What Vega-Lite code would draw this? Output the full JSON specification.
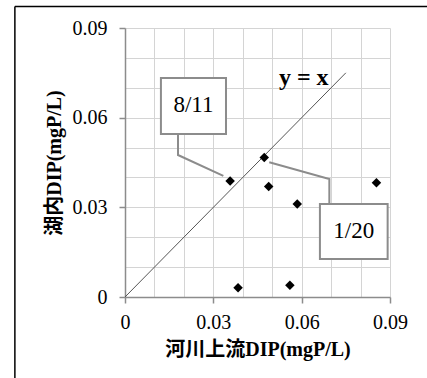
{
  "$schema": "https://vega.github.io/schema/vega-lite/v6.json",
  "width": 265,
  "height": 269,
  "autosize": {"type": "none"},
  "padding": {"left": 125, "top": 28, "right": 37, "bottom": 81},
  "background": "white",
  "config": {
    "view": {"stroke": null},
    "font": "Liberation Serif",
    "text": {"font": "Liberation Serif"}
  },
  "datasets": {
    "points": [
      {"x": 0.0357, "y": 0.0388, "date": "8/11"},
      {"x": 0.0473, "y": 0.0467, "date": "1/20"},
      {"x": 0.0488, "y": 0.0370, "date": ""},
      {"x": 0.0585, "y": 0.0311, "date": ""},
      {"x": 0.0854, "y": 0.0382, "date": ""},
      {"x": 0.0384, "y": 0.0031, "date": ""},
      {"x": 0.0560, "y": 0.0039, "date": ""}
    ],
    "identity": [
      {"x": 0, "y": 0},
      {"x": 0.075, "y": 0.075}
    ],
    "leaders": [
      {"g": "8/11", "s": 1, "x": 0.018, "y": 0.0547},
      {"g": "8/11", "s": 2, "x": 0.018, "y": 0.0475},
      {"g": "8/11", "s": 3, "x": 0.0334, "y": 0.0405},
      {"g": "1/20", "s": 1, "x": 0.0694, "y": 0.0311},
      {"g": "1/20", "s": 2, "x": 0.0694, "y": 0.0395},
      {"g": "1/20", "s": 3, "x": 0.0490, "y": 0.0451}
    ],
    "boxes": [
      {"label": "8/11", "x": 0.0122, "x2": 0.0343, "y": 0.0545, "y2": 0.0733, "cx": 0.02325, "cy": 0.0641},
      {"label": "1/20", "x": 0.0662, "x2": 0.0892, "y": 0.0127, "y2": 0.0311, "cx": 0.0777, "cy": 0.0221}
    ],
    "lineLabel": [
      {"x": 0.0607, "y": 0.0733, "label": "y = x"}
    ],
    "frame": [
      {"x": -0.0374, "x2": -0.0374, "y": -0.0275, "y2": 0.0972},
      {"x": -0.0374, "x2": 0.1030, "y": 0.0972, "y2": 0.0972}
    ]
  },
  "encoding": {
    "x": {
      "field": "x",
      "type": "quantitative",
      "scale": {"domain": [0, 0.09], "nice": false, "zero": false},
      "axis": {
        "title": "河川上流DIP(mgP/L)",
        "values": [0, 0.01, 0.02, 0.03, 0.04, 0.05, 0.06, 0.07, 0.08, 0.09],
        "labelExpr": "round(datum.value*100) % 3 == 0 ? (datum.value == 0 ? '0' : format(datum.value, '.2f')) : ''",
        "grid": true,
        "gridColor": "#d4d4d4",
        "gridWidth": 1,
        "domainColor": "#8c8c8c",
        "domainWidth": 1.5,
        "tickColor": "#8c8c8c",
        "tickWidth": 1.5,
        "tickSize": 6,
        "tickOpacity": {"condition": {"test": "round(datum.value*100) % 3 == 0", "value": 1}, "value": 0},
        "labelFont": "Liberation Serif",
        "labelFontSize": 20,
        "labelColor": "black",
        "labelPadding": 9,
        "labelFlush": false,
        "labelOverlap": false,
        "titleFont": "Liberation Serif, Noto Sans CJK JP",
        "titleFontSize": 20,
        "titleFontWeight": "bold",
        "titleColor": "black",
        "titlePadding": 7
      }
    },
    "y": {
      "field": "y",
      "type": "quantitative",
      "scale": {"domain": [0, 0.09], "nice": false, "zero": false},
      "axis": {
        "title": "湖内DIP(mgP/L)",
        "values": [0, 0.01, 0.02, 0.03, 0.04, 0.05, 0.06, 0.07, 0.08, 0.09],
        "labelExpr": "round(datum.value*100) % 3 == 0 ? (datum.value == 0 ? '0' : format(datum.value, '.2f')) : ''",
        "grid": true,
        "gridColor": "#d4d4d4",
        "gridWidth": 1,
        "domainColor": "#8c8c8c",
        "domainWidth": 1.5,
        "tickColor": "#8c8c8c",
        "tickWidth": 1.5,
        "tickSize": 6,
        "tickOpacity": {"condition": {"test": "round(datum.value*100) % 3 == 0", "value": 1}, "value": 0},
        "labelFont": "Liberation Serif",
        "labelFontSize": 20,
        "labelColor": "black",
        "labelPadding": 12,
        "labelFlush": false,
        "labelOverlap": false,
        "titleFont": "Liberation Serif, Noto Sans CJK JP",
        "titleFontSize": 20,
        "titleFontWeight": "bold",
        "titleColor": "black",
        "titlePadding": 8
      }
    }
  },
  "layer": [
    {
      "data": {"name": "identity"},
      "mark": {"type": "line", "color": "#555555", "strokeWidth": 1, "clip": false}
    },
    {
      "data": {"name": "leaders"},
      "mark": {"type": "line", "color": "#8c8c8c", "strokeWidth": 2, "clip": false},
      "encoding": {
        "detail": {"field": "g", "type": "nominal"},
        "order": {"field": "s", "type": "quantitative"}
      }
    },
    {
      "data": {"name": "points"},
      "mark": {"type": "point", "shape": "diamond", "filled": true, "color": "black", "size": 90, "opacity": 1}
    },
    {
      "data": {"name": "boxes"},
      "mark": {"type": "rect", "fill": "white", "stroke": "#8c8c8c", "strokeWidth": 2, "clip": false},
      "encoding": {
        "x2": {"field": "x2"},
        "y2": {"field": "y2"}
      }
    },
    {
      "data": {"name": "boxes"},
      "mark": {"type": "text", "fontSize": 23, "font": "Liberation Serif", "color": "black", "align": "center", "baseline": "middle"},
      "encoding": {
        "x": {"field": "cx", "type": "quantitative"},
        "y": {"field": "cy", "type": "quantitative"},
        "text": {"field": "label"}
      }
    },
    {
      "data": {"name": "lineLabel"},
      "mark": {"type": "text", "fontSize": 24, "fontWeight": "bold", "font": "Liberation Serif", "color": "black", "align": "center", "baseline": "middle"},
      "encoding": {
        "text": {"field": "label"}
      }
    },
    {
      "data": {"name": "frame"},
      "mark": {"type": "rule", "color": "black", "strokeWidth": 1.5, "clip": false},
      "encoding": {
        "x2": {"field": "x2"},
        "y2": {"field": "y2"}
      }
    }
  ]
}
